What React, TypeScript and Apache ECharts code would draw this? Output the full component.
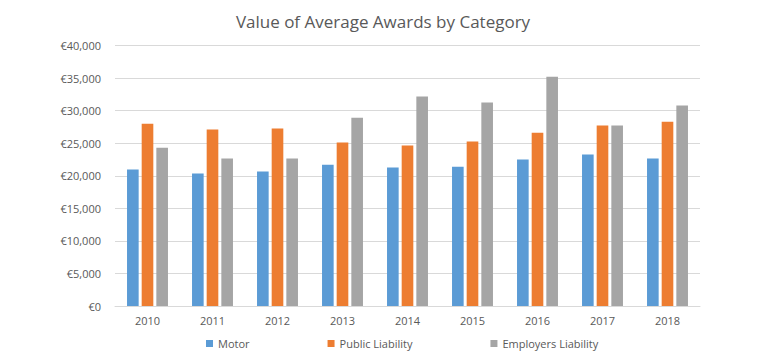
import React, { useEffect, useRef } from "react";
import * as echarts from "echarts";

const categories = ["2010", "2011", "2012", "2013", "2014", "2015", "2016", "2017", "2018"];
const motor = [20950, 20350, 20650, 21700, 21250, 21400, 22500, 23250, 22650];
const publicLiability = [28000, 27100, 27250, 25100, 24650, 25250, 26600, 27700, 28300];
const employersLiability = [24300, 22650, 22650, 28900, 32150, 31250, 35200, 27700, 30800];

const FONT = "'Open Sans', 'Liberation Sans', sans-serif";

export default function App() {
  const ref = useRef<HTMLDivElement>(null);
  useEffect(() => {
    if (!ref.current) return;
    const chart = echarts.init(ref.current, null, { renderer: "svg" });
    chart.setOption({
      animation: false,
      backgroundColor: "#ffffff",
      title: {
        text: "Value of Average Awards by Category",
        left: "center",
        top: 0,
        textStyle: { fontFamily: FONT, fontSize: 17, fontWeight: "normal", color: "#595959" },
      },
      grid: { left: 107, right: 58, top: 37.5, bottom: 48, containLabel: false },
      legend: {
        bottom: 0,
        left: 193,
        itemWidth: 7,
        itemHeight: 7,
        itemGap: 78,
        icon: "rect",
        textStyle: { fontFamily: FONT, fontSize: 11, color: "#595959" },
        data: ["Motor", "Public Liability", "Employers Liability"],
      },
      xAxis: {
        type: "category",
        data: categories,
        axisLine: { lineStyle: { color: "#D9D9D9" } },
        axisTick: { show: false },
        axisLabel: { fontFamily: FONT, fontSize: 11, color: "#595959", margin: 9 },
      },
      yAxis: {
        type: "value",
        min: 0,
        max: 40000,
        interval: 5000,
        axisLine: { show: false },
        axisTick: { show: false },
        splitLine: { lineStyle: { color: "#D9D9D9", width: 1 } },
        axisLabel: {
          fontFamily: FONT,
          fontSize: 11,
          color: "#595959",
          margin: 14,
          formatter: (v: number) => "€" + v.toLocaleString("en-US"),
        },
      },
      series: [
        { name: "Motor", type: "bar", data: motor, itemStyle: { color: "#5B9BD5" }, barGap: "26%", barCategoryGap: "37%" },
        { name: "Public Liability", type: "bar", data: publicLiability, itemStyle: { color: "#ED7D31" }, barGap: "26%", barCategoryGap: "37%" },
        { name: "Employers Liability", type: "bar", data: employersLiability, itemStyle: { color: "#A5A5A5" }, barGap: "26%", barCategoryGap: "37%" },
      ],
    });
    return () => chart.dispose();
  }, []);
  return <div ref={ref} style={{ width: 750, height: 346 }} />;
}
